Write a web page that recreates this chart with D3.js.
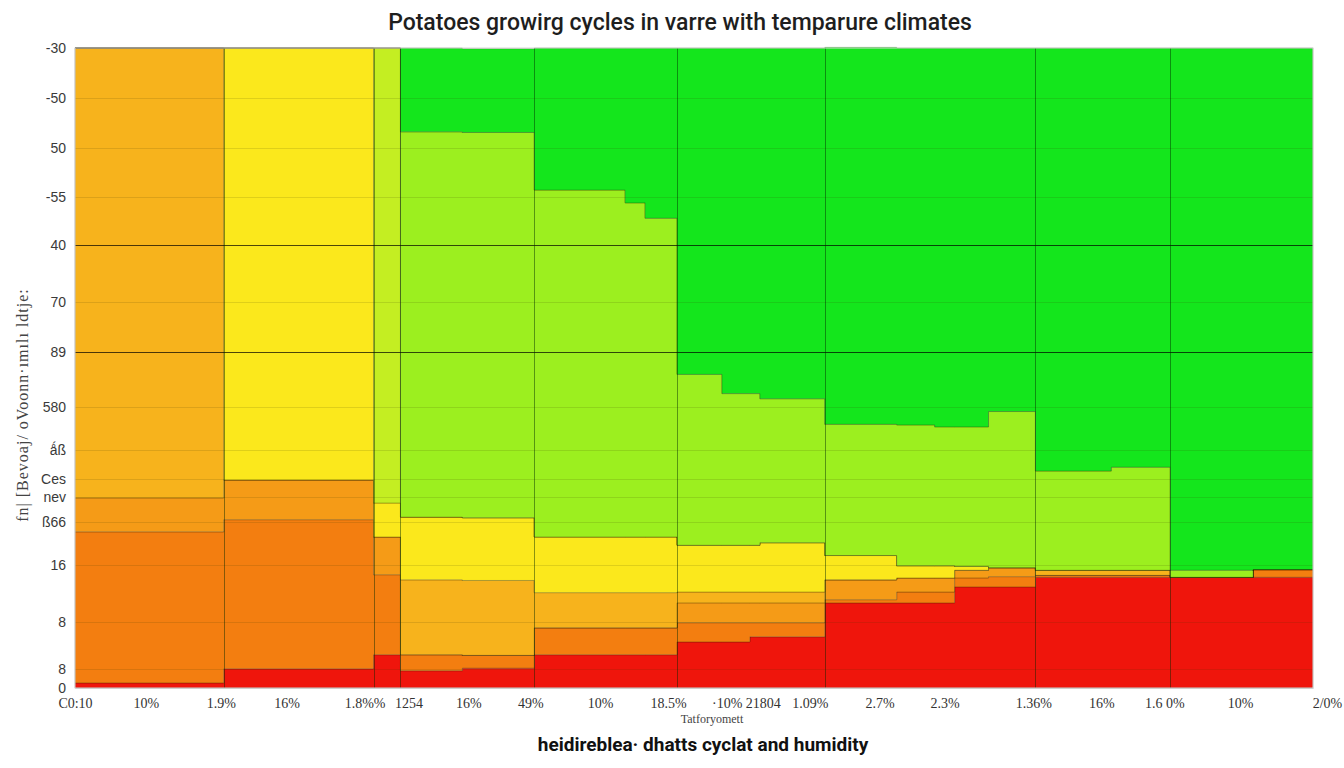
<!DOCTYPE html>
<html>
<head>
<meta charset="utf-8">
<script src="https://cdn.jsdelivr.net/npm/d3@7"></script>
<style>
  html, body { margin: 0; padding: 0; background: #fff; }
  svg { display: block; }
</style>
</head>
<body>
<div id="chart"></div>
<script>
// Step starts of each stretch of the cycle (x units), plus the end of the last one
var stepStarts = [0, 14.9, 29.9, 32.6, 38.8, 46, 55.1, 57.1, 60.3, 64.8, 67.6, 68.6,
                  75.1, 82.3, 86.1, 88.1, 91.5, 96.2, 103.8, 109.7, 118];
var stepEnd = 124;

// Stacked shares per stretch (bottom to top)
var redShare     = [0.8, 3.0, 5.2, 2.7, 3.1, 5.2, 5.2, 5.2, 7.2, 7.2, 8.0, 8.0, 13.3, 13.3, 13.3, 15.8, 15.8, 17.3, 17.3, 17.3, 17.3];
var deepShare    = [23.6, 23.3, 12.5, 2.5, 2.0, 4.2, 4.2, 4.2, 3.0, 3.0, 2.2, 2.2, 0.5, 1.7, 1.7, 1.4, 1.6, 0.3, 0.3, 0, 1.2];
var orangeShare  = [5.3, 6.2, 5.9, 0, 0, 0, 0, 0, 3.1, 3.1, 3.1, 3.1, 3.1, 2.2, 2.2, 1.2, 1.4, 0, 0, 0, 0];
var amberShare   = [70.3, 0, 0, 11.7, 11.7, 5.5, 5.5, 5.5, 1.7, 1.7, 1.7, 1.7, 0, 0, 0, 0, 0, 0.8, 0.8, 0, 0];
var yellowShare  = [0, 67.5, 5.3, 9.8, 9.8, 8.7, 8.7, 8.7, 7.3, 7.3, 7.3, 7.7, 3.8, 1.9, 1.9, 0.6, 0, 0, 0, 0, 0];
var paleShare    = [0, 0, 71.1, 0, 0, 0, 0, 0, 0, 0, 0, 0, 0, 0, 0, 0, 0, 0, 0, 0, 0];
var limeShare    = [0, 0, 0, 60.2, 60.2, 54.2, 52.2, 49.8, 26.7, 23.7, 23.7, 22.5, 20.5, 22.0, 21.7, 21.8, 24.4, 15.5, 16.1, 1.1, 0];
var greenShare   = [0, 0, 0, 13.1, 13.1, 22.2, 24.2, 26.6, 51.0, 54.0, 54.0, 54.8, 58.9, 58.9, 59.2, 59.2, 56.8, 66.1, 65.5, 81.6, 81.5];

var layerKeys   = ["red", "deep", "orange", "amber", "yellow", "pale", "lime", "green"];
var layerColors = ["#ef150c", "#f37e10", "#f59b17", "#f7b31c", "#fbe81c", "#c4ee22", "#9cef1f", "#14e61c"];

// Main cycle boundaries (vertical rules)
var cycleEdges = [14.9, 29.9, 32.6, 46, 60.3, 75.1, 96.2, 109.7];

var yTickValues = [100, 92.2, 84.4, 76.7, 69.2, 60.3, 52.5, 43.9, 37.2, 32.7, 29.8, 25.9, 19.2, 10.3, 3.0, 0];
var yTickLabels = ["-30", "-50", "50", "-55", "40", "70", "89", "580", "ǻß", "Ces", "nev", "ß66", "16", "8", "8", "0"];
var strongGrid  = ["40", "89"];

var xTickValues = [0, 7.1, 14.6, 21.2, 29.0, 33.4, 39.4, 45.6, 52.6, 59.4, 67.2, 73.6, 80.6, 87.1, 96.0, 102.8, 109.1, 116.7, 125.4];
var xTickLabels = ["C0:10", "10%", "1.9%", "16%", "1.8%%", "1254", "16%", "49%", "10%", "18.5%", "·10% 21804", "1.09%",
                   "2.7%", "2.3%", "1.36%", "16%", "1.6 0%", "10%", "2/0%"];

var width = 1344, height = 768;
var margin = { top: 48, right: 31, bottom: 80, left: 75 };

var svg = d3.select("#chart").append("svg")
    .attr("width", width)
    .attr("height", height);

var x = d3.scaleLinear().domain([0, stepEnd]).range([margin.left, width - margin.right]);
var y = d3.scaleLinear().domain([0, 100]).range([height - margin.bottom, margin.top]);

// rows for the stack, last row repeated at the end so the step closes
var rows = stepStarts.map(function (s, i) {
    return {
        x: s, red: redShare[i], deep: deepShare[i], orange: orangeShare[i], amber: amberShare[i],
        yellow: yellowShare[i], pale: paleShare[i], lime: limeShare[i], green: greenShare[i]
    };
});
var last = Object.assign({}, rows[rows.length - 1], { x: stepEnd });
rows.push(last);

var series = d3.stack().keys(layerKeys)(rows);

var area = d3.area()
    .curve(d3.curveStepAfter)
    .x(function (d) { return x(d.data.x); })
    .y0(function (d) { return y(d[0]); })
    .y1(function (d) { return y(d[1]); });

svg.append("g")
    .selectAll("path")
    .data(series)
    .join("path")
    .attr("d", area)
    .attr("fill", function (d, i) { return layerColors[i]; })
    .attr("stroke", "rgba(40,30,0,0.35)")
    .attr("stroke-width", 0.8);

// horizontal grid over the fills
svg.append("g")
    .selectAll("line")
    .data(yTickValues.slice(1, -1))
    .join("line")
    .attr("x1", x(0))
    .attr("x2", x(stepEnd))
    .attr("y1", function (d) { return Math.round(y(d)) + 0.5; })
    .attr("y2", function (d) { return Math.round(y(d)) + 0.5; })
    .attr("stroke", function (d) {
        var lbl = yTickLabels[yTickValues.indexOf(d)];
        return strongGrid.indexOf(lbl) >= 0 ? "rgba(0,0,0,0.7)" : "rgba(60,60,0,0.14)";
    })
    .attr("stroke-width", 1);

// cycle boundaries
svg.append("g")
    .selectAll("line")
    .data(cycleEdges)
    .join("line")
    .attr("x1", function (d) { return Math.round(x(d)) + 0.5; })
    .attr("x2", function (d) { return Math.round(x(d)) + 0.5; })
    .attr("y1", y(100))
    .attr("y2", y(0))
    .attr("stroke", "rgba(0,40,0,0.45)")
    .attr("stroke-width", 1);

// frame
svg.append("rect")
    .attr("x", x(0))
    .attr("y", y(100))
    .attr("width", x(stepEnd) - x(0))
    .attr("height", y(0) - y(100))
    .attr("fill", "none")
    .attr("stroke", "#d8d8d8")
    .attr("stroke-width", 1);

// y axis
var yAxis = d3.axisLeft(y)
    .tickValues(yTickValues)
    .tickSize(0)
    .tickPadding(9)
    .tickFormat(function (d, i) { return yTickLabels[i]; });

svg.append("g")
    .attr("transform", "translate(" + x(0) + ",0)")
    .call(yAxis)
    .call(function (g) { g.select(".domain").remove(); })
    .selectAll("text")
    .attr("font-family", "Liberation Sans, Arial, sans-serif")
    .attr("font-size", "14px")
    .attr("fill", "#3a3a3a");

// x axis
var xAxis = d3.axisBottom(x)
    .tickValues(xTickValues)
    .tickSize(0)
    .tickPadding(10)
    .tickFormat(function (d, i) { return xTickLabels[i]; });

svg.append("g")
    .attr("transform", "translate(0," + y(0) + ")")
    .call(xAxis)
    .call(function (g) { g.select(".domain").attr("stroke", "#cfcfcf"); })
    .selectAll("text")
    .attr("font-family", "Liberation Serif, DejaVu Serif, serif")
    .attr("font-size", "14px")
    .attr("fill", "#333");

// titles
svg.append("text")
    .attr("x", 680)
    .attr("y", 30)
    .attr("text-anchor", "middle")
    .attr("font-family", "Roboto, Liberation Sans, sans-serif")
    .attr("font-weight", 500)
    .attr("font-size", "23px")
    .attr("fill", "#1e1e1e")
    .text("Potatoes growirg cycles in varre with temparure climates");

svg.append("text")
    .attr("x", 712)
    .attr("y", 723)
    .attr("text-anchor", "middle")
    .attr("font-family", "Liberation Serif, serif")
    .attr("font-size", "12px")
    .attr("fill", "#444")
    .text("Tatforyomett");

svg.append("text")
    .attr("x", 703)
    .attr("y", 751)
    .attr("text-anchor", "middle")
    .attr("font-family", "Roboto, Liberation Sans, sans-serif")
    .attr("font-weight", 700)
    .attr("font-size", "19px")
    .attr("fill", "#111")
    .text("heidireblea· dhatts cyclat and humidity");

svg.append("text")
    .attr("transform", "translate(28,405) rotate(-90)")
    .attr("text-anchor", "middle")
    .attr("font-family", "Liberation Serif, serif")
    .attr("font-size", "16px")
    .attr("letter-spacing", "1px")
    .attr("fill", "#444")
    .text("fn| [Bevoaj/ oVoonn·ımılı ldtje:");
</script>
</body>
</html>
